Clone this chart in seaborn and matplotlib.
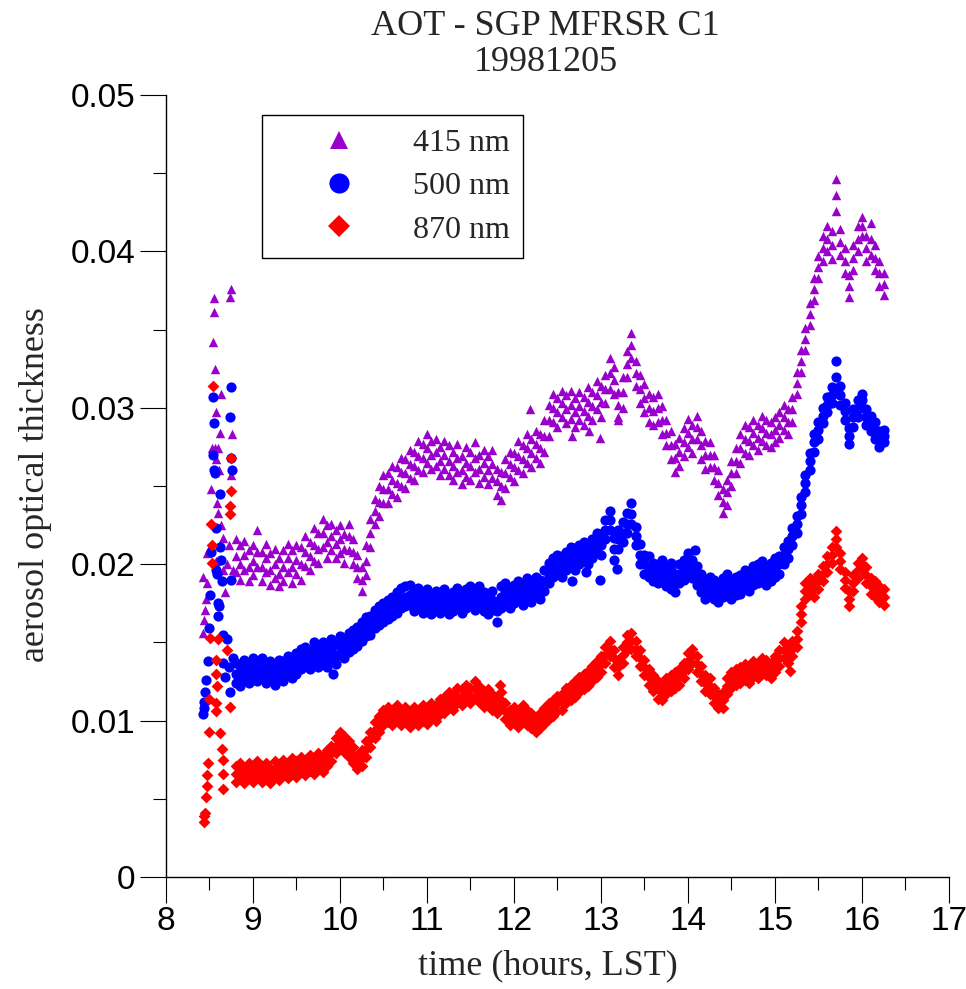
import numpy as np
import pandas as pd
import seaborn as sns
import matplotlib
import matplotlib.pyplot as plt
from matplotlib.lines import Line2D
from matplotlib.ticker import MultipleLocator, FixedLocator, FixedFormatter

matplotlib.use('agg')

# sampling times of the main band (hours, LST)
hours = [
    8.80, 8.85, 8.90, 8.95, 9.00, 9.05, 9.10, 9.15, 9.20, 9.25,
    9.30, 9.35, 9.40, 9.45, 9.50, 9.55, 9.60, 9.65, 9.70, 9.75,
    9.80, 9.85, 9.90, 9.95, 10.00, 10.05, 10.10, 10.15, 10.20, 10.25,
    10.30, 10.35, 10.40, 10.45, 10.50, 10.55, 10.60, 10.65, 10.70, 10.75,
    10.80, 10.85, 10.90, 10.95, 11.00, 11.05, 11.10, 11.15, 11.20, 11.25,
    11.30, 11.35, 11.40, 11.45, 11.50, 11.55, 11.60, 11.65, 11.70, 11.75,
    11.80, 11.85, 11.90, 11.95, 12.00, 12.05, 12.10, 12.15, 12.20, 12.25,
    12.30, 12.35, 12.40, 12.45, 12.50, 12.55, 12.60, 12.65, 12.70, 12.75,
    12.80, 12.85, 12.90, 12.95, 13.00, 13.05, 13.10, 13.15, 13.20, 13.25,
    13.30, 13.35, 13.40, 13.45, 13.50, 13.55, 13.60, 13.65, 13.70, 13.75,
    13.80, 13.85, 13.90, 13.95, 14.00, 14.05, 14.10, 14.15, 14.20, 14.25,
    14.30, 14.35, 14.40, 14.45, 14.50, 14.55, 14.60, 14.65, 14.70, 14.75,
    14.80, 14.85, 14.90, 14.95, 15.00, 15.05, 15.10, 15.15, 15.20, 15.25,
    15.30, 15.35, 15.40, 15.45, 15.50, 15.55, 15.60, 15.65, 15.70, 15.75,
    15.80, 15.85, 15.90, 15.95, 16.00, 16.05, 16.10, 16.15, 16.20, 16.25,
]

# values below are AOT x 1000: upper edge, middle and lower edge of each band
aot415_hi = [
    21.6, 21.2, 21.5, 20.9, 21.2, 22.2, 20.8, 21.3, 20.7, 21.0,
    20.4, 20.9, 21.3, 20.9, 21.2, 21.1, 21.8, 21.4, 22.3, 22.0,
    22.9, 22.5, 22.6, 22.2, 22.5, 21.9, 22.6, 21.6, 20.6, 19.8,
    21.2, 22.9, 24.2, 25.0, 25.7, 25.8, 26.3, 26.2, 26.8, 26.7,
    27.3, 27.2, 27.9, 27.7, 28.3, 27.9, 28.0, 27.5, 27.9, 27.6,
    27.2, 27.7, 26.9, 27.5, 27.2, 27.8, 27.0, 27.3, 26.9, 27.3,
    26.1, 25.9, 26.7, 27.2, 27.1, 27.9, 27.6, 28.3, 28.0, 28.5,
    28.3, 29.2, 30.2, 30.9, 30.6, 31.1, 30.8, 31.1, 30.6, 31.0,
    30.7, 31.3, 31.0, 31.7, 31.4, 32.1, 33.2, 32.6, 31.0, 32.0,
    33.6, 34.8, 33.0, 32.1, 31.5, 30.9, 30.7, 30.9, 30.1, 29.2,
    28.5, 27.7, 28.1, 28.7, 29.3, 28.9, 29.5, 28.5, 27.9, 27.8,
    27.0, 26.0, 24.8, 25.4, 26.6, 27.4, 28.3, 28.9, 28.8, 29.2,
    28.9, 29.5, 29.2, 29.1, 29.4, 29.7, 30.2, 29.9, 30.7, 32.3,
    33.7, 35.1, 36.7, 38.3, 39.7, 41.0, 41.6, 41.3, 44.6, 41.4,
    40.2, 38.5, 40.4, 41.6, 42.2, 41.0, 41.8, 40.4, 39.4, 38.6,
]
aot415_mid = [
    20.5, 20.0, 20.6, 19.8, 20.2, 20.8, 19.8, 20.4, 19.6, 20.0,
    19.4, 19.8, 20.4, 19.8, 20.3, 20.0, 20.8, 20.5, 21.2, 21.0,
    22.0, 21.4, 21.8, 21.3, 21.6, 21.0, 21.8, 20.8, 19.8, 19.0,
    20.2, 22.0, 23.4, 24.0, 24.8, 24.8, 25.4, 25.2, 25.9, 25.8,
    26.4, 26.3, 26.9, 26.8, 27.4, 27.0, 27.2, 26.6, 27.0, 26.6,
    26.3, 26.8, 26.0, 26.5, 26.3, 26.8, 26.1, 26.5, 26.0, 26.4,
    25.3, 25.0, 25.8, 26.4, 26.2, 26.9, 26.7, 27.4, 27.1, 27.7,
    27.4, 28.2, 29.2, 30.0, 29.7, 30.3, 29.9, 30.2, 29.7, 30.1,
    29.8, 30.4, 30.1, 30.8, 30.4, 31.2, 32.2, 31.8, 30.2, 31.0,
    32.8, 34.0, 32.2, 31.2, 30.6, 30.0, 29.8, 30.0, 29.2, 28.4,
    27.6, 26.8, 27.2, 27.8, 28.4, 28.0, 28.8, 27.6, 27.0, 27.0,
    26.2, 25.2, 24.0, 24.6, 25.8, 26.6, 27.4, 28.0, 27.9, 28.4,
    28.1, 28.7, 28.4, 28.3, 28.6, 28.9, 29.4, 29.1, 29.9, 31.6,
    33.0, 34.4, 36.0, 37.6, 39.0, 40.2, 40.8, 40.4, 43.6, 40.6,
    39.4, 37.8, 39.6, 40.8, 41.6, 40.2, 40.8, 39.6, 38.6, 37.9,
]
aot415_lo = [
    19.5, 19.0, 19.6, 18.9, 19.3, 19.8, 18.9, 19.5, 18.7, 19.1,
    18.6, 18.9, 19.5, 18.8, 19.4, 19.0, 19.9, 19.6, 20.2, 20.1,
    21.1, 20.4, 20.9, 20.4, 20.7, 20.1, 20.9, 20.0, 19.1, 18.3,
    19.3, 21.1, 22.6, 23.1, 23.9, 23.9, 24.5, 24.3, 25.0, 24.9,
    25.5, 25.4, 26.0, 25.9, 26.5, 26.1, 26.3, 25.7, 26.1, 25.7,
    25.4, 25.9, 25.1, 25.6, 25.4, 25.9, 25.2, 25.6, 25.1, 25.5,
    24.4, 24.1, 24.9, 25.6, 25.3, 26.0, 25.8, 26.5, 26.2, 26.8,
    26.5, 27.2, 28.2, 29.1, 28.8, 29.4, 29.0, 29.3, 28.8, 29.2,
    28.9, 29.5, 29.2, 29.9, 29.4, 30.3, 31.2, 30.9, 29.4, 30.0,
    32.0, 33.2, 31.4, 30.3, 29.7, 29.1, 28.9, 29.1, 28.3, 27.6,
    26.7, 25.9, 26.3, 26.9, 27.5, 27.1, 28.0, 26.7, 26.1, 26.2,
    25.4, 24.4, 23.3, 23.8, 25.0, 25.8, 26.5, 27.1, 27.0, 27.6,
    27.3, 27.9, 27.6, 27.5, 27.8, 28.1, 28.6, 28.3, 29.1, 30.9,
    32.3, 33.7, 35.3, 36.9, 38.3, 39.4, 40.0, 39.5, 42.6, 39.8,
    38.6, 37.1, 38.8, 40.0, 41.0, 39.4, 39.8, 38.8, 37.8, 37.2,
]
aot500_hi = [
    13.7, 13.5, 13.9, 13.6, 14.0, 13.8, 14.0, 13.6, 13.8, 13.5,
    13.9, 13.8, 14.1, 14.0, 14.3, 14.6, 14.7, 14.5, 15.0, 14.6,
    15.0, 14.8, 15.2, 14.9, 15.4, 15.2, 15.6, 15.8, 16.0, 16.3,
    16.6, 16.7, 17.1, 17.3, 17.5, 17.7, 17.9, 18.2, 18.5, 18.6,
    18.7, 18.3, 18.5, 18.2, 18.4, 18.1, 18.3, 18.1, 18.4, 18.0,
    18.2, 18.5, 18.1, 18.4, 18.6, 18.3, 18.6, 18.2, 18.0, 18.3,
    17.6, 18.6, 18.8, 18.5, 18.7, 18.9, 18.7, 19.1, 18.8, 19.2,
    19.0, 19.6, 20.1, 20.4, 20.6, 20.5, 20.8, 21.1, 20.8, 21.2,
    21.4, 21.3, 21.6, 22.0, 21.9, 22.8, 23.4, 21.7, 22.2, 22.7,
    23.3, 23.9, 22.4, 21.3, 20.6, 20.5, 20.1, 20.0, 20.3, 19.8,
    19.6, 19.4, 20.0, 20.3, 20.7, 20.3, 19.9, 19.4, 19.0, 19.2,
    19.0, 18.8, 19.1, 19.4, 19.0, 19.2, 19.3, 19.6, 19.5, 19.9,
    20.0, 20.2, 19.9, 20.1, 20.4, 20.5, 21.1, 21.5, 22.3, 23.1,
    24.3, 25.7, 27.1, 28.3, 29.1, 30.0, 30.7, 31.3, 33.0, 31.4,
    30.3, 28.7, 29.9, 30.5, 30.9, 29.9, 29.5, 29.1, 28.5, 28.6,
]
aot500_mid = [
    13.0, 12.8, 13.2, 13.0, 13.4, 13.1, 13.3, 13.0, 13.2, 12.9,
    13.3, 13.1, 13.5, 13.3, 13.6, 13.9, 14.1, 13.9, 14.3, 14.0,
    14.4, 14.1, 14.5, 14.2, 14.8, 14.6, 15.0, 15.2, 15.4, 15.7,
    16.0, 16.1, 16.5, 16.7, 16.9, 17.1, 17.3, 17.5, 17.8, 17.9,
    18.0, 17.6, 17.8, 17.5, 17.8, 17.4, 17.7, 17.5, 17.8, 17.4,
    17.6, 17.9, 17.5, 17.8, 18.0, 17.7, 17.9, 17.6, 17.4, 17.7,
    17.0, 17.9, 18.2, 17.8, 18.1, 18.3, 18.0, 18.4, 18.2, 18.6,
    18.4, 18.9, 19.4, 19.8, 20.0, 19.8, 20.2, 20.4, 20.2, 20.6,
    20.8, 20.6, 21.0, 21.4, 21.2, 22.2, 22.8, 21.0, 21.6, 22.0,
    22.6, 23.2, 21.8, 20.6, 20.0, 19.8, 19.5, 19.4, 19.6, 19.2,
    19.0, 18.8, 19.4, 19.6, 20.0, 19.7, 19.3, 18.8, 18.4, 18.6,
    18.4, 18.2, 18.5, 18.8, 18.4, 18.6, 18.7, 19.0, 18.9, 19.3,
    19.4, 19.6, 19.3, 19.5, 19.8, 20.0, 20.6, 21.0, 21.8, 22.6,
    23.8, 25.2, 26.6, 27.8, 28.6, 29.5, 30.2, 30.8, 32.0, 30.8,
    29.8, 28.2, 29.4, 30.0, 30.5, 29.4, 29.0, 28.6, 28.0, 28.2,
]
aot500_lo = [
    12.4, 12.2, 12.6, 12.4, 12.8, 12.5, 12.7, 12.4, 12.6, 12.3,
    12.7, 12.5, 12.9, 12.7, 13.0, 13.3, 13.5, 13.3, 13.7, 13.4,
    13.8, 13.4, 13.9, 13.6, 14.2, 14.0, 14.4, 14.6, 14.8, 15.1,
    15.4, 15.5, 15.9, 16.1, 16.3, 16.5, 16.7, 16.9, 17.2, 17.3,
    17.4, 17.0, 17.2, 16.9, 17.2, 16.8, 17.1, 16.9, 17.2, 16.8,
    17.0, 17.3, 16.9, 17.2, 17.4, 17.1, 17.3, 17.0, 16.8, 17.1,
    16.3, 17.2, 17.6, 17.2, 17.5, 17.7, 17.4, 17.8, 17.6, 18.0,
    17.8, 18.3, 18.8, 19.2, 19.4, 19.2, 19.6, 19.8, 19.6, 20.0,
    20.2, 20.0, 20.4, 20.8, 20.6, 21.6, 22.2, 20.3, 21.0, 21.4,
    22.0, 22.6, 21.2, 20.0, 19.4, 19.2, 18.9, 18.8, 19.0, 18.6,
    18.4, 18.2, 18.8, 19.0, 19.4, 19.1, 18.7, 18.2, 17.8, 18.0,
    17.8, 17.6, 17.9, 18.2, 17.8, 18.0, 18.1, 18.4, 18.3, 18.7,
    18.8, 19.0, 18.7, 18.9, 19.2, 19.4, 20.0, 20.4, 21.2, 22.0,
    23.2, 24.6, 26.0, 27.2, 28.0, 29.0, 29.7, 30.3, 31.0, 30.2,
    29.2, 27.7, 28.8, 29.4, 30.0, 28.9, 28.5, 28.0, 27.5, 27.8,
]
aot870_hi = [
    7.1, 7.3, 7.0, 7.3, 7.1, 7.4, 7.1, 7.3, 7.0, 7.4,
    7.2, 7.5, 7.3, 7.6, 7.4, 7.7, 7.5, 7.8, 7.6, 7.9,
    7.7, 8.1, 8.4, 8.9, 9.3, 9.0, 8.7, 8.3, 7.8, 8.1,
    8.7, 9.3, 9.9, 10.3, 10.7, 10.9, 10.7, 11.0, 10.7, 10.9,
    10.6, 10.9, 10.7, 11.0, 10.8, 11.1, 11.0, 11.4, 11.5, 11.8,
    11.7, 12.1, 12.0, 12.3, 12.1, 12.5, 12.2, 11.9, 12.0, 11.7,
    11.5, 11.8, 11.1, 10.7, 10.9, 10.6, 11.0, 10.7, 10.5, 10.2,
    10.5, 10.8, 11.1, 11.3, 11.6, 11.7, 12.1, 12.3, 12.5, 12.8,
    13.0, 13.2, 13.5, 13.8, 14.1, 14.7, 15.1, 14.5, 13.9, 14.7,
    15.5, 15.6, 15.1, 14.5, 13.9, 13.3, 12.9, 12.5, 12.3, 12.7,
    12.9, 13.1, 13.3, 13.7, 14.3, 14.6, 14.1, 13.5, 12.9, 12.7,
    12.1, 11.7, 11.8, 12.7, 13.1, 13.3, 13.4, 13.6, 13.4, 13.8,
    13.7, 14.0, 13.9, 13.7, 14.1, 14.5, 15.0, 14.7, 15.1, 15.7,
    17.3, 18.8, 19.1, 18.9, 19.4, 19.9, 20.5, 21.1, 22.1, 20.7,
    19.5, 18.3, 19.3, 20.1, 20.4, 19.8, 19.1, 18.9, 18.6, 18.4,
]
aot870_mid = [
    6.6, 6.8, 6.5, 6.8, 6.6, 6.9, 6.6, 6.8, 6.5, 6.9,
    6.7, 7.0, 6.8, 7.1, 6.9, 7.2, 7.0, 7.3, 7.1, 7.4,
    7.2, 7.6, 7.9, 8.4, 8.8, 8.5, 8.2, 7.8, 7.3, 7.6,
    8.2, 8.8, 9.4, 9.8, 10.2, 10.4, 10.2, 10.5, 10.2, 10.4,
    10.1, 10.4, 10.2, 10.5, 10.3, 10.6, 10.5, 10.9, 11.0, 11.3,
    11.2, 11.6, 11.5, 11.8, 11.6, 12.0, 11.7, 11.4, 11.5, 11.2,
    11.0, 11.3, 10.6, 10.2, 10.4, 10.1, 10.5, 10.2, 10.0, 9.7,
    10.0, 10.3, 10.6, 10.8, 11.1, 11.2, 11.6, 11.8, 12.0, 12.3,
    12.5, 12.7, 13.0, 13.3, 13.6, 14.2, 14.6, 14.0, 13.4, 14.2,
    15.0, 15.1, 14.6, 14.0, 13.4, 12.8, 12.4, 12.0, 11.8, 12.2,
    12.4, 12.6, 12.8, 13.2, 13.8, 14.2, 13.6, 13.0, 12.4, 12.2,
    11.6, 11.2, 11.3, 12.2, 12.6, 12.8, 12.9, 13.1, 12.9, 13.3,
    13.2, 13.5, 13.4, 13.2, 13.6, 14.0, 14.5, 14.2, 14.6, 15.2,
    16.8, 18.3, 18.6, 18.4, 18.9, 19.4, 20.0, 20.6, 21.6, 20.2,
    19.0, 17.8, 18.8, 19.6, 20.0, 19.3, 18.6, 18.4, 18.1, 17.9,
]
aot870_lo = [
    6.1, 6.3, 6.0, 6.3, 6.1, 6.4, 6.1, 6.3, 6.0, 6.4,
    6.2, 6.5, 6.3, 6.6, 6.4, 6.7, 6.5, 6.8, 6.6, 6.9,
    6.7, 7.1, 7.4, 7.9, 8.3, 8.0, 7.7, 7.3, 6.9, 7.1,
    7.7, 8.3, 8.9, 9.3, 9.7, 9.9, 9.7, 10.0, 9.7, 9.9,
    9.6, 9.9, 9.7, 10.0, 9.8, 10.1, 10.0, 10.4, 10.5, 10.8,
    10.7, 11.1, 11.0, 11.3, 11.1, 11.5, 11.2, 10.9, 11.0, 10.7,
    10.5, 10.8, 10.1, 9.7, 9.9, 9.6, 10.0, 9.7, 9.5, 9.3,
    9.5, 9.8, 10.1, 10.3, 10.6, 10.7, 11.1, 11.3, 11.5, 11.8,
    12.0, 12.2, 12.5, 12.8, 13.1, 13.7, 14.1, 13.4, 12.9, 13.7,
    14.5, 14.6, 14.1, 13.5, 12.9, 12.3, 11.9, 11.4, 11.3, 11.7,
    11.9, 12.1, 12.3, 12.7, 13.3, 13.7, 13.1, 12.5, 11.9, 11.7,
    11.1, 10.8, 10.8, 11.7, 12.1, 12.3, 12.4, 12.6, 12.4, 12.8,
    12.7, 13.0, 12.9, 12.7, 13.1, 13.5, 14.0, 13.7, 14.1, 14.7,
    16.3, 17.8, 18.1, 17.9, 18.4, 18.9, 19.5, 20.1, 21.1, 19.7,
    18.5, 17.3, 18.3, 19.1, 19.6, 18.8, 18.1, 17.9, 17.6, 17.4,
]

# scattered early-morning points and isolated outliers (time, AOT x 1000)
extra415_t = [8.43, 8.44, 8.45, 8.46, 8.43, 8.47, 8.47, 8.52, 8.53, 8.55, 8.55, 8.54,
              8.56, 8.57, 8.56, 8.58, 8.60, 8.61, 8.62, 8.63, 8.59, 8.60, 8.63, 8.66,
              8.68, 8.65, 8.58, 8.50, 8.75, 8.74, 8.76, 8.75, 8.70, 8.72, 8.77,
              12.18, 12.67, 12.86, 12.99, 13.20]
extra415_v = [15.6, 16.4, 17.1, 17.8, 19.2, 18.8, 20.7, 24.8, 27.4, 37.0, 36.1, 34.2,
              32.5, 29.7, 27.4, 26.7, 27.4, 26.0, 28.4, 30.9, 23.9, 23.3, 22.5, 21.7,
              18.2, 19.6, 20.2, 21.0, 37.6, 37.1, 28.3, 25.7, 20.0, 21.2, 19.6,
              29.9, 28.2, 28.5, 28.1, 29.2]
extra500_t = [8.43, 8.44, 8.44, 8.45, 8.46, 8.48, 8.50, 8.51, 8.52, 8.54, 8.55, 8.54,
              8.55, 8.56, 8.57, 8.58, 8.59, 8.60, 8.61, 8.60, 8.62, 8.62, 8.63, 8.64,
              8.65, 8.66, 8.68, 8.70, 8.72, 8.74, 8.75, 8.74, 8.75, 8.76, 8.75, 8.77,
              9.92, 12.67, 12.83, 12.99, 13.18, 13.80, 14.08]
extra500_v = [10.4, 10.8, 11.2, 11.8, 12.6, 13.8, 15.9, 18.0, 20.8, 30.7, 29.0, 27.0,
              26.0, 25.8, 22.3, 19.6, 19.4, 17.5, 17.3, 16.7, 24.5, 21.1, 20.3, 18.9,
              15.5, 13.7, 12.8, 15.2, 13.4, 11.8, 31.3, 29.4, 26.8, 26.0, 19.0, 14.0,
              13.0, 18.9, 19.5, 19.0, 19.7, 20.1, 20.9]
extra870_t = [8.44, 8.44, 8.45, 8.46, 8.47, 8.47, 8.48, 8.49, 8.50, 8.51, 8.53, 8.53,
              8.52, 8.54, 8.57, 8.57, 8.58, 8.58, 8.59, 8.60, 8.62, 8.64, 8.65, 8.66,
              8.66, 8.70, 8.74, 8.75, 8.75, 8.74, 8.74, 11.84, 15.17]
extra870_v = [3.5, 3.9, 4.1, 5.1, 5.8, 6.5, 7.3, 9.3, 11.4, 15.3, 20.1, 21.2,
              22.6, 31.4, 11.1, 10.6, 13.0, 13.9, 12.2, 15.2, 9.2, 8.2, 7.5, 6.6,
              5.6, 14.5, 10.9, 26.8, 24.7, 23.7, 23.2, 12.3, 13.2]

labels = ["415 nm", "500 nm", "870 nm"]
colors = ["#9900cc", "#0000ff", "#ff0000"]
markers = ["^", "o", "D"]
sizes = [46, 54, 36]

xticks = [8, 9, 10, 11, 12, 13, 14, 15, 16, 17]
yticks = [0, 0.01, 0.02, 0.03, 0.04, 0.05]
ytick_labels = ["0", "0.01", "0.02", "0.03", "0.04", "0.05"]

series = [
    (extra415_t, extra415_v, aot415_hi, aot415_mid, aot415_lo),
    (extra500_t, extra500_v, aot500_hi, aot500_mid, aot500_lo),
    (extra870_t, extra870_v, aot870_hi, aot870_mid, aot870_lo),
]

frames = []
for lab, (et, ev, hi, mid, lo) in zip(labels, series):
    t = list(et) + hours + hours + hours
    v = np.array(list(ev) + hi + mid + lo) / 1000.0
    frames.append(pd.DataFrame({"time": t, "aot": v, "band": lab}))
df = pd.concat(frames, ignore_index=True)

sns.set_theme(style="ticks")
plt.rcParams['font.family'] = ['Liberation Sans', 'DejaVu Sans']
serif = ['Liberation Serif', 'DejaVu Serif']

fig = plt.figure(figsize=(9.66, 9.89), dpi=100)
ax = fig.add_axes([0.17184, 0.11325, 0.81056, 0.79070])

for lab, col, mk, sz in zip(labels, colors, markers, sizes):
    sub = df[df.band == lab]
    sns.scatterplot(data=sub, x="time", y="aot", marker=mk, color=col, s=sz,
                    linewidth=0, ax=ax, legend=False, zorder=3)

ax.set_xlim(8, 17)
ax.set_ylim(0, 0.05)
ax.xaxis.set_major_locator(FixedLocator(xticks))
ax.xaxis.set_minor_locator(MultipleLocator(0.5))
ax.yaxis.set_major_locator(FixedLocator(yticks))
ax.yaxis.set_major_formatter(FixedFormatter(ytick_labels))
ax.yaxis.set_minor_locator(MultipleLocator(0.005))
ax.set_xlabel("")
ax.set_ylabel("")

for s in ["top", "right"]:
    ax.spines[s].set_visible(False)
for s in ["left", "bottom"]:
    ax.spines[s].set_linewidth(1.0)
    ax.spines[s].set_color("black")

ax.tick_params(axis="both", which="major", direction="out", length=19, width=0.8,
               color="black", labelsize=24, labelcolor="black")
ax.tick_params(axis="both", which="minor", direction="out", length=9.5, width=0.8,
               color="black")
ax.tick_params(axis="x", which="major", pad=2)
ax.tick_params(axis="y", which="major", pad=3)

# titles and axis labels in a serif face
fig.text(0.565, 0.9737, "AOT - SGP MFRSR C1", ha="center", va="center",
         fontsize=26, family=serif)
fig.text(0.565, 0.9373, "19981205", ha="center", va="center",
         fontsize=26, family=serif)
fig.text(0.567, 0.0232, "time (hours, LST)", ha="center", va="center",
         fontsize=26, family=serif)
fig.text(0.037, 0.5096, "aerosol optical thickness", ha="center", va="center",
         rotation=90, fontsize=26, family=serif)

handles = [
    Line2D([], [], linestyle="none", marker="^", markersize=13, color=colors[0], markeredgewidth=0),
    Line2D([], [], linestyle="none", marker="o", markersize=14.5, color=colors[1], markeredgewidth=0),
    Line2D([], [], linestyle="none", marker="D", markersize=11, color=colors[2], markeredgewidth=0),
]
leg = ax.legend(handles, labels, loc="upper left", bbox_to_anchor=(0.1226, 0.9744),
                prop={"family": serif, "size": 23}, frameon=True, fancybox=False,
                framealpha=1, edgecolor="black", borderpad=0.42, labelspacing=0.44,
                handlelength=3.95, handletextpad=0.35, borderaxespad=0)
leg.get_frame().set_linewidth(1.0)

fig.savefig("out.png", dpi=100)
